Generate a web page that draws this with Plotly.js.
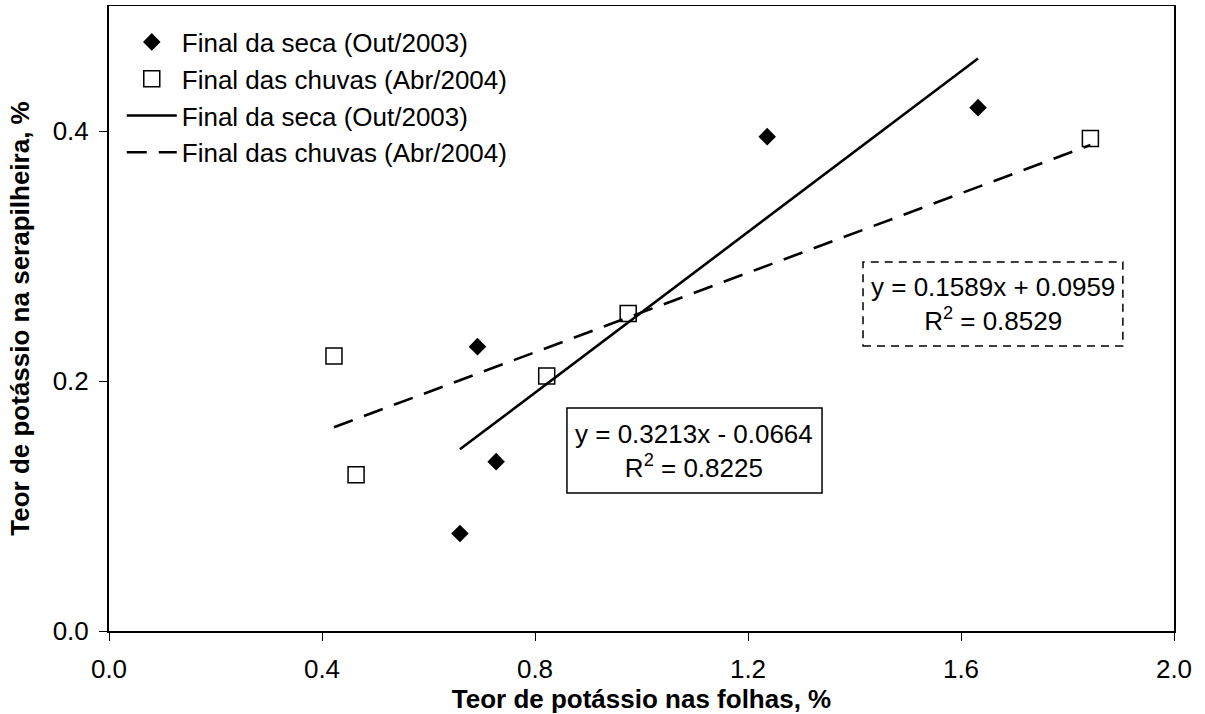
<!DOCTYPE html>
<html>
<head>
<meta charset="utf-8">
<script src="https://cdn.plot.ly/plotly-3.0.1.min.js"></script>
<style>
html,body{margin:0;padding:0;background:#fff;}
#chart{width:1205px;height:714px;}
</style>
</head>
<body>
<div id="chart"></div>
<script>
// Data
const secaX = [0.659, 0.692, 0.727, 1.236, 1.632];
const secaY = [0.078, 0.2275, 0.1355, 0.3955, 0.4187];
const chuvasX = [0.4225, 0.464, 0.822, 0.975, 1.843];
const chuvasY = [0.220, 0.125, 0.204, 0.254, 0.394];

// Trend-line coefficients printed on the chart
const secaFit = {slope: 0.3213, intercept: -0.0664, r2: 0.8225};
const chuvasFit = {slope: 0.1589, intercept: 0.0959, r2: 0.8529};

const seriesNames = ['Final da seca (Out/2003)', 'Final das chuvas (Abr/2004)'];
const xTicks = [0.0, 0.4, 0.8, 1.2, 1.6, 2.0];
const yTicks = [0.0, 0.2, 0.4];

function fitLine(xs, fit) {
  const x0 = Math.min(...xs), x1 = Math.max(...xs);
  return {x: [x0, x1], y: [fit.slope * x0 + fit.intercept, fit.slope * x1 + fit.intercept]};
}
const secaLine = fitLine(secaX, secaFit);
const chuvasLine = fitLine(chuvasX, chuvasFit);

const FONT = 'Arial, "Liberation Sans", sans-serif';

const traces = [
  {x: secaX, y: secaY, mode: 'markers', type: 'scatter', name: seriesNames[0],
   marker: {symbol: 'diamond', size: 13.5, color: '#000', line: {width: 0}}},
  {x: chuvasX, y: chuvasY, mode: 'markers', type: 'scatter', name: seriesNames[1],
   marker: {symbol: 'square', size: 16, color: '#fff', line: {width: 1.5, color: '#000'}}},
  {x: secaLine.x, y: secaLine.y, mode: 'lines', type: 'scatter', name: seriesNames[0],
   line: {color: '#000', width: 2.6}},
  {x: chuvasLine.x, y: chuvasLine.y, mode: 'lines', type: 'scatter', name: seriesNames[1],
   line: {color: '#000', width: 2.6, dash: '20px,12px'}}
];

function eqText(fit) {
  const sign = fit.intercept < 0 ? '-' : '+';
  return 'y = ' + fit.slope.toFixed(4) + 'x ' + sign + ' ' + Math.abs(fit.intercept).toFixed(4) +
         '<br>R<sup>2</sup> = ' + fit.r2.toFixed(4);
}

const layout = {
  width: 1205, height: 714,
  margin: {l: 109, r: 31, t: 6, b: 83, pad: 0},
  paper_bgcolor: '#fff', plot_bgcolor: '#fff',
  font: {family: FONT, size: 26, color: '#000'},
  showlegend: true,
  legend: {x: 0.012, y: 0.98, xanchor: 'left', yanchor: 'top',
           bgcolor: 'rgba(0,0,0,0)', borderwidth: 0,
           font: {family: FONT, size: 26, color: '#000'},
           itemwidth: 50, tracegroupgap: 0},
  xaxis: {range: [0, 2.0], tickvals: xTicks, ticktext: xTicks.map(v => v.toFixed(1)),
          showgrid: false, zeroline: false, showline: true, linecolor: '#000', linewidth: 1.5,
          mirror: true, ticks: 'outside', ticklen: 8, tickwidth: 1, tickcolor: '#000',
          ticklabelstandoff: 6,
          tickfont: {family: FONT, size: 26},
          title: {text: '<b>Teor de potássio nas folhas, %</b>', font: {family: FONT, size: 26}, standoff: 4}},
  yaxis: {range: [0, 0.5], tickvals: yTicks, ticktext: yTicks.map(v => v.toFixed(1)),
          showgrid: false, zeroline: false, showline: true, linecolor: '#000', linewidth: 2,
          mirror: true, ticks: 'outside', ticklen: 8, tickwidth: 1, tickcolor: '#000',
          ticklabelstandoff: 5,
          tickfont: {family: FONT, size: 26},
          title: {text: '<b>Teor de potássio na serapilheira, %</b>', font: {family: FONT, size: 26}, standoff: 16}},
  shapes: [
    {type: 'rect', xref: 'paper', yref: 'paper', x0: 0.430, x1: 0.6695, y0: 0.2208, y1: 0.3568,
     line: {color: '#000', width: 1.5}, fillcolor: '#fff', layer: 'above'},
    {type: 'rect', xref: 'paper', yref: 'paper', x0: 0.708, x1: 0.952, y0: 0.456, y1: 0.5904,
     line: {color: '#000', width: 1.5, dash: '8px,6px'}, fillcolor: '#fff', layer: 'above'}
  ],
  annotations: [
    {xref: 'paper', yref: 'paper', x: 0.5493, y: 0.2888, xanchor: 'center', yanchor: 'middle',
     text: eqText(secaFit), showarrow: false, align: 'center', font: {family: FONT, size: 26, color: '#000'}},
    {xref: 'paper', yref: 'paper', x: 0.830, y: 0.5232, xanchor: 'center', yanchor: 'middle',
     text: eqText(chuvasFit), showarrow: false, align: 'center', font: {family: FONT, size: 26, color: '#000'}}
  ]
};

Plotly.newPlot('chart', traces, layout, {displayModeBar: false, staticPlot: true});
</script>
</body>
</html>
